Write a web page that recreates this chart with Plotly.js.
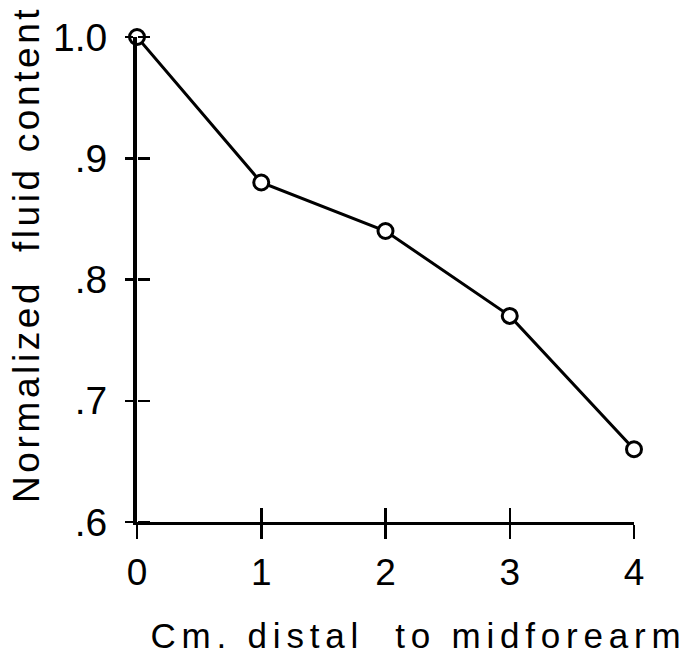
<!DOCTYPE html>
<html>
<head>
<meta charset="utf-8">
<script src="https://cdn.plot.ly/plotly-3.0.1.min.js"></script>
<style>
  html, body { margin: 0; padding: 0; background: #fff; }
  #chart { width: 696px; height: 662px; }
  /* the scanned lettering is widely spaced */
  g.annotation[data-index="0"] .annotation-text { letter-spacing: 5.8px; }
  g.annotation[data-index="1"] .annotation-text { letter-spacing: 3.6px; }
</style>
</head>
<body>
<div id="chart"></div>
<script>
// Values
const distanceCm = [0, 1, 2, 3, 4];
const fluidContent = [1.0, 0.88, 0.84, 0.77, 0.66];

const xTickVals = [0, 1, 2, 3, 4];
const xTickText = ['0', '1', '2', '3', '4'];
const yTickVals = [0.6, 0.7, 0.8, 0.9, 1.0];
const yTickText = ['.6', '.7', '.8', '.9', '1.0'];

const xTitle = 'Cm. distal  to midforearm';
const yTitle = 'Normalized  fluid content';

const font = 'Liberation Sans, Arial, sans-serif';

const trace = {
    x: distanceCm,
    y: fluidContent,
    type: 'scatter',
    mode: 'lines+markers',
    line: { color: '#000', width: 3 },
    marker: { symbol: 'circle', size: 15, color: '#fff', line: { color: '#000', width: 3 } },
    cliponaxis: false,
    hoverinfo: 'x+y'
};

// same data on the overlay axes, only so the crossing tick marks get drawn
const tickHelper = {
    x: distanceCm,
    y: fluidContent,
    xaxis: 'x2',
    yaxis: 'y2',
    type: 'scatter',
    mode: 'none',
    hoverinfo: 'skip'
};

const layout = {
    width: 696,
    height: 662,
    margin: { l: 137, r: 62, t: 37, b: 140 },
    paper_bgcolor: '#fff',
    plot_bgcolor: '#fff',
    showlegend: false,
    font: { family: font, color: '#000', size: 36 },
    xaxis: {
        range: [0, 4],
        tickvals: xTickVals,
        ticktext: xTickText,
        ticks: 'outside',
        ticklen: 14,
        tickwidth: 2.5,
        tickcolor: '#000',
        tickfont: { family: font, size: 37, color: '#000' },
        ticklabelstandoff: 2,
        showline: true,
        linecolor: '#000',
        linewidth: 2.5,
        showgrid: false,
        zeroline: false
    },
    xaxis2: {
        overlaying: 'x',
        anchor: 'y',
        range: [0, 4],
        tickvals: xTickVals,
        ticks: 'inside',
        ticklen: 14,
        tickwidth: 2.5,
        tickcolor: '#000',
        showticklabels: false,
        showline: false,
        showgrid: false,
        zeroline: false
    },
    yaxis: {
        range: [0.6, 1.0],
        tickvals: yTickVals,
        ticktext: yTickText,
        ticks: 'outside',
        ticklen: 8,
        tickwidth: 2.5,
        tickcolor: '#000',
        tickfont: { family: font, size: 39, color: '#000' },
        ticklabelstandoff: 10,
        showline: true,
        linecolor: '#000',
        linewidth: 4,
        showgrid: false,
        zeroline: false
    },
    // right-facing half of the y ticks, pinned to the left edge of the plot
    yaxis2: {
        overlaying: 'y',
        anchor: 'free',
        position: 0,
        side: 'right',
        range: [0.6, 1.0],
        tickvals: yTickVals,
        ticks: 'outside',
        ticklen: 12,
        tickwidth: 2.5,
        tickcolor: '#000',
        showticklabels: false,
        showline: false,
        showgrid: false,
        zeroline: false
    },
    annotations: [
        {
            text: xTitle,
            xref: 'paper', yref: 'paper',
            x: 0.567, y: -0.235,
            xanchor: 'center', yanchor: 'middle',
            showarrow: false,
            font: { family: font, size: 35, color: '#000' }
        },
        {
            text: yTitle,
            xref: 'paper', yref: 'paper',
            x: -0.221, y: 0.553,
            xanchor: 'center', yanchor: 'middle',
            textangle: -90,
            showarrow: false,
            font: { family: font, size: 37, color: '#000' }
        }
    ]
};

Plotly.newPlot('chart', [trace, tickHelper], layout, { displayModeBar: false, staticPlot: true });
</script>
</body>
</html>
